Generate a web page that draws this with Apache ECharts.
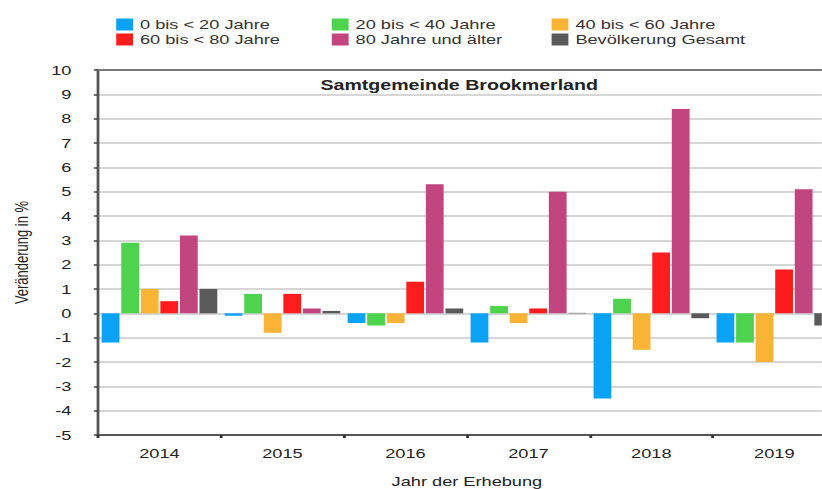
<!DOCTYPE html>
<html>
<head>
<meta charset="utf-8">
<script src="https://cdn.jsdelivr.net/npm/echarts@6/dist/echarts.min.js"></script>
<style>
  html, body { margin: 0; padding: 0; background: #fff; overflow: hidden; }
  /* the source picture is stretched sideways, so the chart is drawn narrow and widened */
  #chart {
    width: 587px;
    height: 489px;
    transform: scaleX(1.4);
    transform-origin: left top;
  }
</style>
</head>
<body>
<div id="chart"></div>
<script>
const years = ['2014', '2015', '2016', '2017', '2018', '2019']
const seriesNames = ['0 bis < 20 Jahre', '20 bis < 40 Jahre', '40 bis < 60 Jahre', '60 bis < 80 Jahre', '80 Jahre und älter', 'Bevölkerung Gesamt']
const colors = ['#0aa2f5', '#4dd34d', '#f9b435', '#ff1c1c', '#c2457f', '#5a5a5a']

const age0to20 = [-1.2, -0.1, -0.4, -1.2, -3.5, -1.2]
const age20to40 = [2.9, 0.8, -0.5, 0.3, 0.6, -1.2]
const age40to60 = [1.0, -0.8, -0.4, -0.4, -1.5, -2.0]
const age60to80 = [0.5, 0.8, 1.3, 0.2, 2.5, 1.8]
const age80plus = [3.2, 0.2, 5.3, 5.0, 8.4, 5.1]
const total = [1.0, 0.1, 0.2, 0.02, -0.2, -0.5]
const values = [age0to20, age20to40, age40to60, age60to80, age80plus, total]

const font = "'Liberation Sans', Arial, sans-serif"

const chart = echarts.init(document.getElementById('chart'), null, { renderer: 'svg' })

const legendCol = (names, left) => ({
  orient: 'vertical',
  left: left,
  top: 18,
  padding: 0,
  itemWidth: 12,
  itemHeight: 12,
  itemGap: 2,
  icon: 'rect',
  data: names,
  textStyle: { fontFamily: font, fontSize: 13, color: '#333', lineHeight: 13 },
  selectedMode: false
})

const option = {
  animation: false,
  title: {
    text: 'Samtgemeinde Brookmerland',
    left: 323,
    textAlign: 'center',
    top: 73,
    textStyle: { fontFamily: font, fontSize: 14, fontWeight: 'bold', color: '#222' }
  },
  legend: [
    legendCol([seriesNames[0], seriesNames[3]], 83),
    legendCol([seriesNames[1], seriesNames[4]], 237),
    legendCol([seriesNames[2], seriesNames[5]], 394)
  ],
  grid: {
    left: 70,
    top: 70,
    bottom: 54,
    width: 527,
    outerBoundsMode: 'none'
  },
  xAxis: [
    {
      type: 'category',
      data: years,
      name: 'Jahr der Erhebung',
      nameLocation: 'middle',
      nameGap: 40,
      nameTextStyle: { fontFamily: font, fontSize: 13, color: '#222' },
      axisLine: { onZero: false, lineStyle: { color: '#555', width: 2 } },
      axisTick: { show: true, length: 3, lineStyle: { color: '#333', width: 2 } },
      axisLabel: { fontFamily: font, fontSize: 13, color: '#222', margin: 12 }
    },
    {
      type: 'category',
      data: years,
      position: 'top',
      axisLine: { onZero: false, lineStyle: { color: '#777', width: 2 } },
      axisTick: { show: false },
      axisLabel: { show: false }
    }
  ],
  yAxis: {
    type: 'value',
    min: -5,
    max: 10,
    interval: 1,
    name: 'Veränderung in %',
    nameLocation: 'middle',
    nameGap: 48,
    nameTextStyle: { fontFamily: font, fontSize: 13, color: '#222' },
    axisLine: { show: true, lineStyle: { color: '#555', width: 2 } },
    axisTick: { show: true, length: 3, lineStyle: { color: '#444', width: 1.5 } },
    axisLabel: { fontFamily: font, fontSize: 13, color: '#222', margin: 19 },
    splitLine: { lineStyle: { color: '#d6d6d6', width: 2 } }
  },
  series: seriesNames.map((name, i) => ({
    name: name,
    type: 'bar',
    data: values[i],
    itemStyle: { color: colors[i] },
    barGap: '10%',
    barCategoryGap: '6%'
  }))
}

chart.setOption(option)
</script>
</body>
</html>
